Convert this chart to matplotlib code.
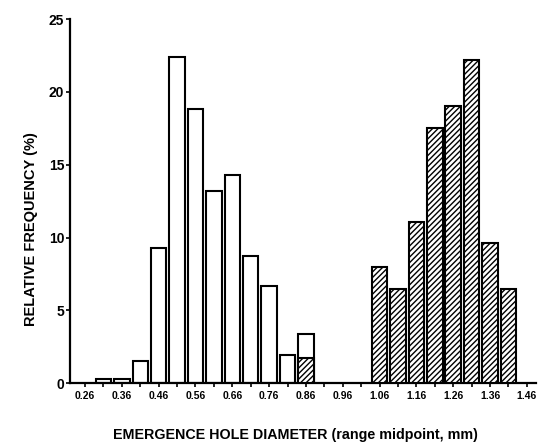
#!/usr/bin/env python3
from __future__ import annotations

import matplotlib

matplotlib.use("Agg")
import matplotlib.pyplot as plt

# range midpoints (mm) and relative frequency (%) per group
open_mid = [0.31, 0.36, 0.41, 0.46, 0.51, 0.56, 0.61, 0.66, 0.71, 0.76, 0.81, 0.86]
open_pct = [0.3, 0.3, 1.5, 9.3, 22.4, 18.8, 13.2, 14.3, 8.7, 6.7, 1.9, 3.4]

hatched_mid = [0.86, 1.06, 1.11, 1.16, 1.21, 1.26, 1.31, 1.36, 1.41]
hatched_pct = [1.7, 8.0, 6.5, 11.1, 17.5, 19.0, 22.2, 9.6, 6.5]

tick_labels = ["0.26", "0.36", "0.46", "0.56", "0.66", "0.76", "0.86",
               "0.96", "1.06", "1.16", "1.26", "1.36", "1.46"]
y_ticks = [0, 5, 10, 15, 20, 25]

FONT = ["Liberation Sans", "DejaVu Sans"]


def main() -> int:
    plt.rcParams["font.family"] = FONT
    plt.rcParams["font.weight"] = "bold"
    plt.rcParams["hatch.linewidth"] = 1.0

    fig = plt.figure(figsize=(5.42, 4.45), dpi=100)
    ax = fig.add_axes([0.129, 0.139, 0.860, 0.818])

    width = 0.042
    ax.bar(open_mid, open_pct, width=width, facecolor="white",
           edgecolor="black", linewidth=1.5, zorder=2)
    ax.bar(hatched_mid, hatched_pct, width=width, facecolor="white",
           edgecolor="black", linewidth=1.5, hatch="//////", zorder=3)

    ax.set_xlim(0.219, 1.485)
    ax.set_ylim(0, 25)

    major = [float(t) for t in tick_labels]
    ax.set_xticks(major)
    ax.set_xticklabels(tick_labels, fontsize=7.5, fontweight="bold")
    ax.set_xticks([m + 0.05 for m in major[:-1]], minor=True)
    ax.tick_params(axis="x", which="both", direction="out", length=3,
                   width=1.2, pad=3)

    ax.set_yticks(y_ticks)
    ax.set_yticklabels([str(v) for v in y_ticks], fontsize=10, fontweight="bold")
    ax.tick_params(axis="y", direction="out", length=3, width=1.2, pad=1)

    for side in ("top", "right"):
        ax.spines[side].set_visible(False)
    for side in ("left", "bottom"):
        ax.spines[side].set_linewidth(1.6)

    fig.text(0.545, 0.022, "EMERGENCE HOLE DIAMETER (range midpoint, mm)",
             ha="center", va="center", fontsize=10.3, fontweight="bold")
    fig.text(0.057, 0.485, "RELATIVE FREQUENCY (%)", rotation=90,
             ha="center", va="center", fontsize=10.5, fontweight="bold")

    fig.savefig("out.png", dpi=100)
    return 0


if __name__ == "__main__":
    raise SystemExit(main())
